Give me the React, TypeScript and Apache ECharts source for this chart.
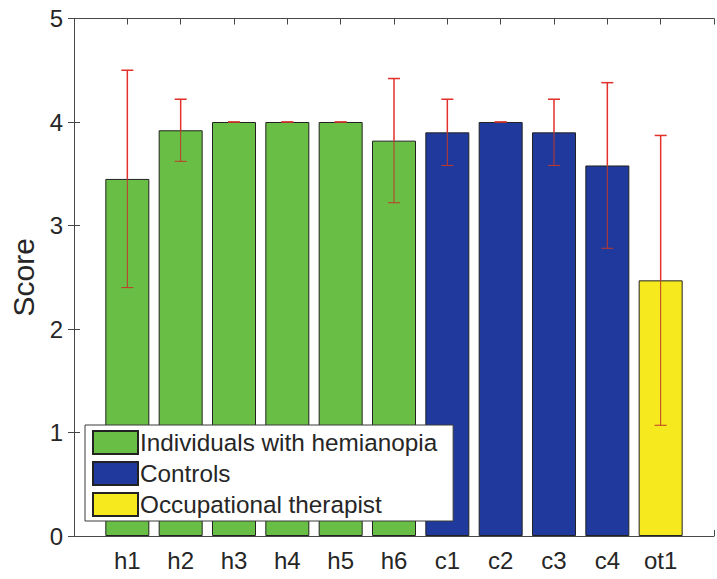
import React, { useEffect, useRef } from "react";
import * as echarts from "echarts";

// Participant labels along the x axis (positions 1..11)
const categories = ["h1", "h2", "h3", "h4", "h5", "h6", "c1", "c2", "c3", "c4", "ot1"];

// Mean scores and their spread for each group
const hemianopiaScores = [3.45, 3.92, 4.0, 4.0, 4.0, 3.82];
const hemianopiaErrors = [1.05, 0.3, 0, 0, 0, 0.6];
const controlScores = [3.9, 4.0, 3.9, 3.58];
const controlErrors = [0.32, 0, 0.32, 0.8];
const therapistScores = [2.47];
const therapistErrors = [1.4];

const groupNames = ["Individuals with hemianopia", "Controls", "Occupational therapist"];
const groupColors = ["#69be45", "#1f3a9c", "#f6ea1e"];

const yTicks = [0, 1, 2, 3, 4, 5];

const FONT = "'Liberation Sans', Arial, Helvetica, sans-serif";
const TEXT = "#262626";
const AXIS = "#474747";

export default function App() {
  const ref = useRef<HTMLDivElement>(null);

  useEffect(() => {
    if (!ref.current) return;
    const chart = echarts.init(ref.current, undefined, { renderer: "svg" });

    const groups = [hemianopiaScores, controlScores, therapistScores];
    const errs = [hemianopiaErrors, controlErrors, therapistErrors];

    // x position of each bar (1-based index into categories)
    let pos = 1;
    const barData: number[][][] = [];
    const errData: number[][] = [];
    groups.forEach((vals, g) => {
      const d: number[][] = [];
      vals.forEach((v, i) => {
        d.push([pos, v]);
        errData.push([pos, v, errs[g][i]]);
        pos++;
      });
      barData.push(d);
    });

    const barSeries = groupNames.map((name, g) => ({
      name,
      type: "bar",
      xAxisIndex: 0,
      yAxisIndex: 0,
      barWidth: 44,
      barGap: "-100%",
      data: barData[g],
      itemStyle: { color: groupColors[g], borderColor: "#222", borderWidth: 1 },
      z: 2,
    }));

    const errorSeries = {
      type: "custom",
      name: "error",
      xAxisIndex: 0,
      yAxisIndex: 0,
      data: errData,
      z: 5,
      renderItem: (params: any, api: any) => {
        const x = api.value(0);
        const m = api.value(1);
        const e = api.value(2);
        const top = api.coord([x, m + e]);
        const mid = api.coord([x, m]);
        const bot = api.coord([x, m - e]);
        const half = 6;
        const style = { stroke: "#e2302b", lineWidth: 1.5 };
        const inner = { stroke: "#c0392b", lineWidth: 1 };
        return {
          type: "group",
          children: [
            { type: "line", shape: { x1: top[0], y1: top[1], x2: mid[0], y2: mid[1] }, style },
            { type: "line", shape: { x1: mid[0], y1: mid[1], x2: bot[0], y2: bot[1] }, style: inner },
            { type: "line", shape: { x1: top[0] - half, y1: top[1], x2: top[0] + half, y2: top[1] }, style },
            { type: "line", shape: { x1: bot[0] - half, y1: bot[1], x2: bot[0] + half, y2: bot[1] }, style: inner },
          ],
        };
      },
    };

    const tickLabelStyle = { fontFamily: FONT, fontSize: 24, color: TEXT };

    chart.setOption({
      animation: false,
      backgroundColor: "#ffffff",
      grid: { left: 71, top: 18.5, width: 654, bottom: 43, containLabel: false },
      legend: {
        orient: "vertical",
        left: 85,
        top: 425,
        data: groupNames,
        itemWidth: 45,
        itemHeight: 23,
        itemGap: 6,
        padding: [5, 16, 4, 7],
        backgroundColor: "#ffffff",
        borderColor: "#3a3a3a",
        borderWidth: 1,
        borderRadius: 0,
        icon: "rect",
        textStyle: { fontFamily: FONT, fontSize: 24.3, color: TEXT, padding: [0, 0, 0, -3] },
        selectedMode: false,
      },
      xAxis: [
        {
          type: "value",
          position: "bottom",
          min: 0,
          max: categories.length + 1,
          interval: 1,
          splitLine: { show: false },
          axisLine: { show: true, onZero: false, lineStyle: { color: AXIS, width: 1 } },
          axisTick: { show: true, inside: true, length: 6, lineStyle: { color: AXIS } },
          axisLabel: {
            ...tickLabelStyle,
            margin: 12,
            showMinLabel: true,
            showMaxLabel: true,
            formatter: (v: number) => categories[v - 1] ?? "",
          },
        },
        {
          type: "value",
          position: "top",
          min: 0,
          max: categories.length + 1,
          interval: 1,
          splitLine: { show: false },
          axisLine: { show: true, onZero: false, lineStyle: { color: AXIS, width: 1 } },
          axisTick: { show: true, inside: true, length: 6, lineStyle: { color: AXIS } },
          axisLabel: { show: false },
        },
      ],
      yAxis: [
        {
          type: "value",
          position: "left",
          min: yTicks[0],
          max: yTicks[yTicks.length - 1],
          interval: 1,
          name: "Score",
          nameLocation: "middle",
          nameRotate: 90,
          nameGap: 36,
          nameTextStyle: { fontFamily: FONT, fontSize: 30, color: TEXT },
          splitLine: { show: false },
          axisLine: { show: true, lineStyle: { color: AXIS, width: 1 } },
          axisTick: { show: true, inside: true, length: 6, lineStyle: { color: AXIS } },
          axisLabel: { ...tickLabelStyle, margin: 11 },
        },
        {
          type: "value",
          position: "right",
          min: yTicks[0],
          max: yTicks[yTicks.length - 1],
          interval: 1,
          splitLine: { show: false },
          axisLine: { show: true, lineStyle: { color: AXIS, width: 1 } },
          axisTick: { show: true, inside: true, length: 6, lineStyle: { color: AXIS } },
          axisLabel: { show: false },
        },
      ],
      series: [...barSeries, errorSeries],
    });

    return () => chart.dispose();
  }, []);

  return (
    <div
      ref={ref}
      style={{ position: "fixed", left: 0, top: 0, width: 717, height: 579, background: "#fff" }}
    />
  );
}
